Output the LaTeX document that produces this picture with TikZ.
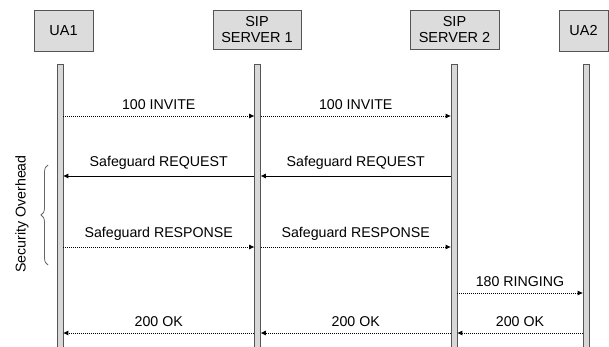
\documentclass[tikz,border=0pt]{standalone}
\usepackage{fontspec}
\setmainfont{Liberation Sans}
\usetikzlibrary{arrows.meta,decorations.pathreplacing}
\definecolor{boxfill}{HTML}{DCDCDC}
\definecolor{boxline}{HTML}{555555}
\definecolor{lifefill}{HTML}{D8D8D8}
\begin{document}
\begin{tikzpicture}[x=1pt,y=-1pt,
  actor/.style={draw=boxline,fill=boxfill,line width=0.8pt,inner sep=0pt,align=center,
     font=\fontsize{14.5}{15.5}\selectfont},
  life/.style={draw=boxline,fill=lifefill,line width=0.8pt,inner sep=0pt,minimum width=6pt},
  msg/.style={line width=0.9pt,dash pattern=on 1pt off 1pt,-{Triangle[length=5pt,width=4.5pt]}},
  req/.style={line width=0.9pt,-{Triangle[length=5pt,width=4.5pt]}},
  lbl/.style={font=\fontsize{14.2}{15}\selectfont,inner sep=0pt}]
\useasboundingbox (0,0) rectangle (609,347);
% actors
\node[actor,minimum width=59pt,minimum height=41pt] (ua1) at (63.5,30.5) {UA1};
\node[actor,minimum width=88pt,minimum height=39pt] (s1) at (257,29.5) {SIP\\SERVER 1};
\node[actor,minimum width=89pt,minimum height=39pt] (s2) at (454.5,29.5) {SIP\\SERVER 2};
\node[actor,minimum width=49pt,minimum height=41pt] (ua2) at (583.5,30.5) {UA2};
% lifelines
\node[life,minimum height=290pt,anchor=north] (l1) at (60,64) {};
\node[life,minimum height=290pt,anchor=north] (l2) at (257.5,64) {};
\node[life,minimum height=290pt,anchor=north] (l3) at (454,64) {};
\node[life,minimum height=290pt,anchor=north] (l4) at (586,64) {};
% rows
\coordinate (r1) at (0,116);
\coordinate (r2) at (0,176);
\coordinate (r3) at (0,247);
\coordinate (r4) at (0,293);
\coordinate (r5) at (0,333);
% messages
\draw[msg] (l1.east |- r1) -- node[lbl,above=6pt] (m1) {100 INVITE} (l2.west |- r1);
\draw[msg] (l2.east |- r1) -- node[lbl,above=6pt] (m2) {100 INVITE} (l3.west |- r1);
\draw[req] (l3.west |- r2) -- node[lbl,above=6pt] (m3) {Safeguard REQUEST} (l2.east |- r2);
\draw[req] (l2.west |- r2) -- node[lbl,above=6pt] (m4) {Safeguard REQUEST} (l1.east |- r2);
\draw[msg] (l1.east |- r3) -- node[lbl,above=6pt] (m5) {Safeguard RESPONSE} (l2.west |- r3);
\draw[msg] (l2.east |- r3) -- node[lbl,above=6pt] (m6) {Safeguard RESPONSE} (l3.west |- r3);
\draw[msg] (l3.east |- r4) -- node[lbl,above=6pt] (m7) {180 RINGING} (l4.west |- r4);
\draw[msg] (l4.west |- r5) -- node[lbl,above=6pt] (m8) {200 OK} (l3.east |- r5);
\draw[msg] (l3.west |- r5) -- node[lbl,above=6pt] (m9) {200 OK} (l2.east |- r5);
\draw[msg] (l2.west |- r5) -- node[lbl,above=6pt] (m10) {200 OK} (l1.east |- r5);
% security overhead
\coordinate (bb) at (48,265);
\coordinate (bt) at (48,165);
\draw[gray!80!black,line width=0.8pt,decorate,decoration={brace,amplitude=7pt}] (bb) -- (bt);
\node[lbl,rotate=90] (sec) at (22,214) {Security Overhead};
\end{tikzpicture}
\end{document}
